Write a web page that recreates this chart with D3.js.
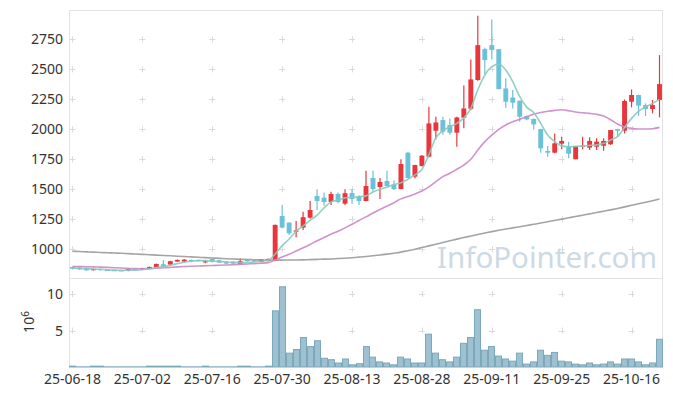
<!DOCTYPE html>
<html>
<head>
<meta charset="utf-8">
<script src="https://cdn.jsdelivr.net/npm/d3@7"></script>
<style>
  body { margin: 0; background: #fff; }
  text { font-family: "Noto Sans", sans-serif; }
</style>
</head>
<body>
<svg id="chart" width="673" height="396"></svg>
<script>
// trading days (yy-mm-dd)
const dates = [
  "25-06-18","25-06-19","25-06-20","25-06-23","25-06-24","25-06-25","25-06-26","25-06-27","25-06-30",
  "25-07-01","25-07-02","25-07-03","25-07-04","25-07-07","25-07-08","25-07-09","25-07-10","25-07-11",
  "25-07-14","25-07-15","25-07-16","25-07-17","25-07-18","25-07-21","25-07-22","25-07-23","25-07-24",
  "25-07-25","25-07-28","25-07-29","25-07-30","25-07-31",
  "25-08-01","25-08-04","25-08-05","25-08-06","25-08-07","25-08-08","25-08-11","25-08-12","25-08-13",
  "25-08-14","25-08-18","25-08-19","25-08-20","25-08-21","25-08-22","25-08-25","25-08-26","25-08-27",
  "25-08-28","25-08-29",
  "25-09-01","25-09-02","25-09-03","25-09-04","25-09-05","25-09-08","25-09-09","25-09-10","25-09-11",
  "25-09-12","25-09-15","25-09-16","25-09-17","25-09-18","25-09-19","25-09-22","25-09-23","25-09-24",
  "25-09-25","25-09-26","25-09-29","25-09-30",
  "25-10-01","25-10-02","25-10-10","25-10-13","25-10-14","25-10-15","25-10-16","25-10-17","25-10-20",
  "25-10-21","25-10-22"
];

const openPrices = [
  852,847,845,825,836,828,826,825,820,836,830,838,847,875,872,897,897,911,911,897,
  919,908,897,897,875,911,908,894,902,905,1277,1222,1148,1180,1263,1444,1430,1394,1461,1380,
  1469,1444,1402,1594,1519,1569,1538,1502,1805,1605,1694,1772,1988,2077,2036,1972,2097,2172,2411,2669,
  2702,2668,2341,2265,2238,2110,2086,2002,1819,1805,1880,1855,1750,1855,1847,1855,1863,1875,2002,1988,
  2230,2286,2202,2169,2244
];
const highPrices = [
  856,850,847,838,838,832,829,828,836,840,845,856,880,911,903,915,918,915,915,911,
  922,911,900,900,925,915,911,919,922,1206,1369,1225,1236,1313,1402,1500,1472,1480,1472,1500,
  1500,1450,1655,1655,1594,1655,1575,1750,1810,1705,1785,2188,2105,2105,2090,2105,2366,2583,2947,2680,
  2916,2668,2425,2327,2240,2115,2090,2005,1861,1966,1938,1897,1861,1938,1933,1925,1925,1994,2005,2249,
  2333,2290,2216,2244,2619
];
const lowPrices = [
  832,828,820,822,822,820,818,818,816,822,826,834,844,855,868,893,893,896,897,884,
  890,884,877,877,872,898,898,890,898,900,1175,1119,1100,1161,1255,1327,1363,1369,1383,1369,
  1380,1369,1400,1480,1419,1520,1494,1500,1594,1590,1690,1765,1917,1955,1955,1855,2008,2160,2405,2460,
  2583,2335,2180,2174,2063,2075,1999,1805,1772,1800,1833,1758,1750,1833,1827,1827,1822,1870,1933,1966,
  2183,2111,2111,2133,2100
];
const closePrices = [
  838,832,824,836,826,824,822,822,834,826,842,852,877,858,900,911,913,900,902,900,
  894,888,880,880,900,902,902,916,919,1203,1180,1133,1156,1267,1327,1402,1394,1461,1394,1467,
  1419,1402,1527,1502,1561,1527,1502,1711,1594,1702,1780,2049,2057,1980,1972,2099,2174,2416,2702,2577,
  2661,2335,2230,2222,2105,2083,2041,1841,1805,1883,1903,1797,1861,1863,1903,1897,1903,1994,1988,2236,
  2286,2197,2169,2202,2377
];
// volume, millions of shares
const volumes = [
  0.12,0.01,0.01,0.12,0.12,0.01,0.01,0.01,0.01,0.01,0.01,0.12,0.12,0.12,0.12,0.12,0.01,0.01,0.01,0.12,
  0.01,0.01,0.01,0.01,0.12,0.12,0.01,0.01,0.12,7.7,11.0,1.9,2.4,4.05,2.8,3.6,1.2,1.0,0.55,1.1,
  0.3,0.45,2.8,1.35,0.7,0.55,0.3,1.35,1.1,0.55,0.55,4.5,1.9,1.0,0.7,1.35,3.25,4.05,7.85,2.3,
  2.8,1.5,1.1,0.8,1.9,0.4,0.7,2.3,1.6,2.0,0.8,0.7,0.4,0.3,0.55,0.3,0.4,0.7,0.4,1.1,
  1.1,0.7,0.3,0.55,3.8
];
// moving averages
const maShort = [
  842,840,837,835,832,829,826,824,825,826,829,835,847,855,866,880,892,899,905,905,
  902,897,893,889,888,890,893,900,908,960,1030,1085,1150,1195,1240,1285,1345,1395,1410,1428,
  1433,1438,1445,1478,1500,1517,1540,1555,1583,1620,1665,1790,1930,1988,2022,2050,2095,2175,2330,2452,
  2522,2545,2494,2397,2272,2185,2140,2050,1952,1897,1862,1855,1858,1860,1866,1870,1883,1911,1940,2016,
  2091,2150,2188,2216,2250
];
const maMid = [
  856,855,854,853,851,849,846,843,840,838,837,838,841,845,849,853,856,858,860,862,
  864,866,868,871,874,877,880,883,888,910,935,958,985,1012,1040,1070,1098,1125,1150,1178,
  1208,1240,1270,1302,1332,1360,1388,1420,1440,1460,1485,1520,1564,1605,1633,1667,1702,1750,1827,1897,
  1952,2000,2036,2063,2083,2105,2125,2140,2150,2158,2163,2155,2145,2138,2133,2125,2110,2080,2045,2020,
  2008,2003,2002,2005,2016
];
const maLong = [
  983,981,978,976,973,971,968,966,963,960,957,954,951,948,945,942,939,936,933,930,
  927,924,921,918,916,914,912,910,910,909,909,910,910,911,913,915,917,919,922,925,
  929,934,939,945,952,959,967,976,988,1000,1014,1028,1042,1056,1070,1084,1097,1110,1123,1135,
  1147,1158,1168,1178,1188,1198,1208,1218,1229,1240,1251,1262,1273,1284,1295,1306,1317,1328,1340,1353,
  1366,1379,1392,1405,1419
];

const priceTicks = [1000,1250,1500,1750,2000,2250,2500,2750];
const volumeTicks = [5,10];
const dateTicks = ["25-06-18","25-07-02","25-07-16","25-07-30","25-08-13","25-08-28","25-09-11","25-09-25","25-10-16"];

// layout
const plot = {left:69, right:663, top:10, split:278, bottom:367};
const colors = {up:"#e8363c", down:"#6bc1d9", grid:"#dadada", frame:"#e3e3e3", text:"#333",
		maShort:"#86cbbd", maMid:"#cc86c6", maLong:"#9a9a9a", volFill:"#9dc1d1", volStroke:"#7ca8bb"};

const svg = d3.select("#chart");

const x = d3.scaleBand()
      .domain(dates)
      .range([plot.left, plot.right])
      .paddingInner(0.3)
      .paddingOuter(0.15);
const cx = function(d){ return x(d) + x.bandwidth()/2; };

const yPrice = d3.scaleLinear().domain([760, 2995]).range([plot.split, plot.top]);
const yVol = d3.scaleLinear().domain([0, 12.2]).range([plot.bottom, plot.split]);

const rows = dates.map(function(d,i){
  return {date:d, open:openPrices[i], high:highPrices[i], low:lowPrices[i], close:closePrices[i],
	  vol:volumes[i], ma1:maShort[i], ma2:maMid[i], ma3:maLong[i]};
});

//frames
const frame = svg.append("g").attr("fill","none").attr("stroke",colors.frame).attr("stroke-width",1);
frame.append("rect")
  .attr("x",plot.left+0.5).attr("y",plot.top+0.5)
  .attr("width",plot.right-plot.left-1).attr("height",plot.bottom-plot.top-1);
frame.append("line")
  .attr("x1",plot.left).attr("x2",plot.right)
  .attr("y1",plot.split+0.5).attr("y2",plot.split+0.5);

//grid crosses
const crossX = dateTicks.map(cx);
const crossRows = priceTicks.map(yPrice).concat(volumeTicks.map(yVol));
const grid = svg.append("g").attr("stroke",colors.grid).attr("stroke-width",1);
crossRows.forEach(function(yy){
  crossX.forEach(function(xx){
    grid.append("path")
      .attr("d","M"+(xx-3)+","+(Math.round(yy)+0.5)+"h6M"+(Math.round(xx)+0.5)+","+(yy-3)+"v6");
  });
});

//watermark
svg.append("text")
  .attr("x",437).attr("y",268)
  .style("font-size","29.5px")
  .attr("fill","#c6d7e2")
  .attr("opacity",0.9)
  .text("InfoPointer.com");

//axes
const fmt = d3.format("d");
const axPrice = svg.append("g")
  .attr("transform","translate("+(plot.left-3)+",0)")
  .call(d3.axisLeft(yPrice).tickValues(priceTicks).tickFormat(fmt).tickSize(0).tickPadding(3));
const axVol = svg.append("g")
  .attr("transform","translate("+(plot.left-3)+",0)")
  .call(d3.axisLeft(yVol).tickValues(volumeTicks).tickFormat(fmt).tickSize(0).tickPadding(3));
const axDate = svg.append("g")
  .attr("transform","translate(0,"+(plot.bottom+2)+")")
  .call(d3.axisBottom(x).tickValues(dateTicks).tickSize(0).tickPadding(5));
[axPrice, axVol, axDate].forEach(function(ax){
  ax.select(".domain").remove();
  ax.selectAll("text").attr("fill",colors.text).style("font-size","14px").style("font-family","'Noto Sans', sans-serif");
});

svg.append("text")
  .attr("transform","translate(34,322) rotate(-90)")
  .attr("text-anchor","middle")
  .attr("fill",colors.text)
  .style("font-size","14px")
  .text("10")
  .append("tspan").attr("dy",-5).style("font-size","10px").text("6");

//volume bars
svg.append("g").selectAll("rect")
  .data(rows).enter()
  .append("rect")
  .attr("x",function(d){ return Math.round(cx(d.date) - x.step()/2) + 0.5; })
  .attr("width",Math.round(x.step()) - 1)
  .attr("y",function(d){ return yVol(d.vol); })
  .attr("height",function(d){ return plot.bottom - yVol(d.vol); })
  .attr("fill",colors.volFill)
  .attr("stroke",colors.volStroke)
  .attr("stroke-width",1);

//candles
const candle = svg.append("g").selectAll("g")
      .data(rows).enter()
      .append("g")
      .attr("fill",function(d){ return d.close >= d.open ? colors.up : colors.down; })
      .attr("stroke",function(d){ return d.close >= d.open ? colors.up : colors.down; });
candle.append("line")
  .attr("x1",function(d){ return cx(d.date); }).attr("x2",function(d){ return cx(d.date); })
  .attr("y1",function(d){ return yPrice(d.high); })
  .attr("y2",function(d){ return yPrice(d.low); })
  .attr("stroke-width",1.2);
candle.append("rect")
  .attr("x",function(d){ return x(d.date); })
  .attr("width",x.bandwidth())
  .attr("y",function(d){ return yPrice(Math.max(d.open,d.close)); })
  .attr("height",function(d){ return Math.max(1.2, Math.abs(yPrice(d.open) - yPrice(d.close))); })
  .attr("stroke","none");

//moving averages
[["ma3",colors.maLong],["ma2",colors.maMid],["ma1",colors.maShort]].forEach(function(m){
  const line = d3.line()
	.x(function(d){ return cx(d.date); })
	.y(function(d){ return yPrice(d[m[0]]); })
	.curve(d3.curveMonotoneX);
  svg.append("path")
    .datum(rows)
    .attr("d",line)
    .attr("fill","none")
    .attr("stroke",m[1])
    .attr("stroke-width",1.6)
    .attr("opacity",0.9);
});
</script>
</body>
</html>
